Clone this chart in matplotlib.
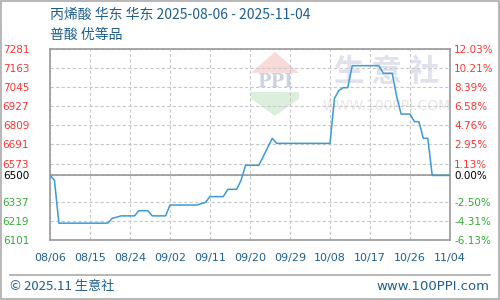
import matplotlib
matplotlib.use("Agg")
import matplotlib.pyplot as plt
from matplotlib.patches import Polygon, Rectangle
import pandas as pd

plt.rcParams['font.family'] = ['Noto Sans CJK SC', 'DejaVu Sans']

title_line1 = "丙烯酸 华东 华东 2025-08-06 - 2025-11-04"
title_line2 = "普酸 优等品"
start_date = "2025-08-06"
end_date = "2025-11-04"
base_price = 6500

# daily prices, 2025-08-06 .. 2025-11-04
prices = [
    6500, 6470, 6205, 6205, 6205, 6205, 6205, 6205, 6205, 6205,   # 08/06-08/15
    6205, 6205, 6205, 6205, 6235, 6242, 6250, 6250, 6250, 6250,   # 08/16-08/25
    6282, 6282, 6282, 6250, 6250, 6250, 6250, 6317, 6317, 6317,   # 08/26-09/04
    6317, 6317, 6317, 6317, 6325, 6334, 6369, 6369, 6369, 6369,   # 09/05-09/14
    6414, 6414, 6414, 6470, 6563, 6563, 6563, 6563, 6618, 6673,   # 09/15-09/24
    6729, 6698, 6698, 6698, 6698, 6698, 6698, 6698, 6698, 6698,   # 09/25-10/04
    6698, 6698, 6698, 6698, 6975, 7025, 7042, 7042, 7178, 7178,   # 10/05-10/14
    7178, 7178, 7178, 7178, 7178, 7131, 7131, 7131, 6987, 6879,   # 10/15-10/24
    6879, 6879, 6832, 6832, 6729, 6729, 6500, 6500, 6500, 6500,   # 10/25-11/03
    6500,                                                         # 11/04
]
dates = pd.date_range(start_date, end_date, freq="D")

ytick_values = [7281, 7163, 7045, 6927, 6809, 6691, 6573, 6500, 6337, 6219, 6101]
pct_labels = ["12.03%", "10.21%", "8.39%", "6.58%", "4.76%", "2.95%", "1.13%",
              "0.00%", "-2.50%", "-4.31%", "-6.13%"]
xtick_labels = ["08/06", "08/15", "08/24", "09/02", "09/11", "09/20", "09/29",
                "10/08", "10/17", "10/26", "11/04"]
footer_left = "© 2025.11 生意社"
footer_right = "www.100PPI.com"

RED = "#ff3333"
GREEN = "#33aa33"
BLUE_TXT = "#1f5f8f"
LINE = "#3a9ad9"
GRID = "#c8c8c8"
AX = "#999999"

def tcolor(v):
    if v > base_price:
        return RED
    if v < base_price:
        return GREEN
    return "black"

fig = plt.figure(figsize=(5, 3), dpi=100)
fig.patch.set_facecolor("white")

# outer border
fig.add_artist(Rectangle((0.001, 0.002), 0.997, 0.996, transform=fig.transFigure,
                         fill=False, edgecolor="#aaaaaa", lw=1.2))

ax = fig.add_axes([0.1, 0.2, 0.8, 0.6367])
ax.set_facecolor("none")

# watermark (logo + text) in axes coordinates
ax.add_patch(Polygon([[0.5625, 0.985], [0.6225, 0.875], [0.5025, 0.875]], closed=True,
                     transform=ax.transAxes, facecolor="#f8dada", edgecolor="none", zorder=0))
ax.add_patch(Polygon([[0.5025, 0.775], [0.6225, 0.775], [0.6225, 0.74], [0.5625, 0.65],
                      [0.5025, 0.74]], closed=True,
                     transform=ax.transAxes, facecolor="#dcefdc", edgecolor="none", zorder=0))
ax.text(0.5625, 0.826, "PPI", transform=ax.transAxes, ha="center", va="center",
        fontsize=13, color="#cdd2e3", family=["DejaVu Serif"], fontweight="bold", zorder=0)
ax.text(0.8425, 0.88, "生 意 社", transform=ax.transAxes, ha="center", va="center",
        fontsize=22, color="#dfe2ec", fontweight="bold", zorder=0)
ax.text(0.8425, 0.70, "WWW.100PPI.COM", transform=ax.transAxes, ha="center", va="center",
        fontsize=10, color="#e6e6e6", family=["DejaVu Sans"], zorder=0)

ax.plot(dates, prices, color=LINE, lw=1.1, zorder=3)
ax.axhline(base_price, color=AX, lw=1.2, zorder=2)

ax.set_xlim(pd.Timestamp(start_date), pd.Timestamp(end_date))
ax.set_ylim(ytick_values[-1], ytick_values[0])

xt = pd.date_range(start_date, end_date, freq="9D")
ax.set_xticks(xt)
ax.set_xticklabels(xtick_labels, fontsize=8, color=BLUE_TXT, family=["DejaVu Sans"])
ax.set_yticks(ytick_values)
ax.set_yticklabels([str(v) for v in ytick_values], fontsize=7.5, family=["DejaVu Sans"])
for lab, v in zip(ax.get_yticklabels(), ytick_values):
    lab.set_color(tcolor(v))
ax.tick_params(axis="y", length=0, pad=15)
ax.tick_params(axis="x", length=0, pad=9)

ax.grid(True, color=GRID, ls=(0, (3, 2)), lw=0.8, zorder=1)
for s in ax.spines.values():
    s.set_color(AX)
    s.set_linewidth(1.2)

ax2 = ax.twinx()
ax2.set_ylim(ax.get_ylim())
ax2.set_yticks(ytick_values)
ax2.set_yticklabels(pct_labels, fontsize=7.5, family=["DejaVu Sans"])
for lab, v in zip(ax2.get_yticklabels(), ytick_values):
    lab.set_color(tcolor(v))
ax2.tick_params(axis="y", length=0, pad=3)
for s in ax2.spines.values():
    s.set_visible(False)

fig.text(0.1, 0.95, title_line1, fontsize=10, color=BLUE_TXT, va="center", ha="left")
fig.text(0.1, 0.885, title_line2, fontsize=10, color=BLUE_TXT, va="center", ha="left")

fig.add_artist(plt.Line2D([0.02, 0.98], [0.083, 0.083], transform=fig.transFigure,
                          color="#aaaaaa", lw=1.2))
fig.text(0.02, 0.045, footer_left, fontsize=9.5, color=BLUE_TXT, va="center", ha="left")
fig.text(0.978, 0.045, footer_right, fontsize=9.5, color=BLUE_TXT, va="center", ha="right",
         family=["DejaVu Sans"])

fig.savefig("out.png", dpi=100)
